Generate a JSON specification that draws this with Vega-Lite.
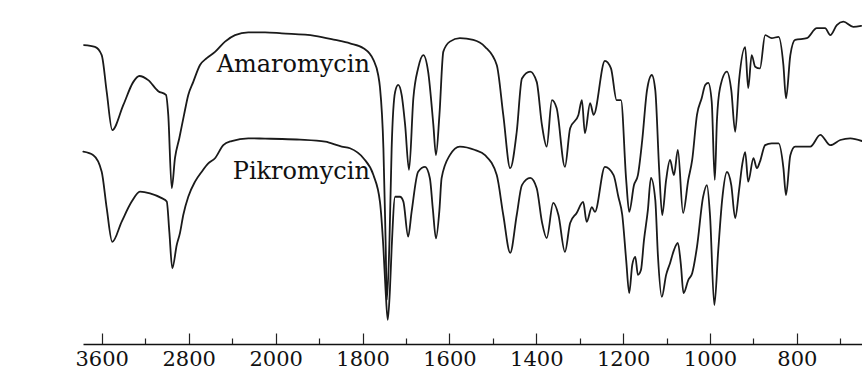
{
  "$schema": "https://vega.github.io/schema/vega-lite/v6.json",
  "width": 862,
  "height": 344,
  "autosize": "none",
  "padding": {"left": 0, "top": 0, "right": 0, "bottom": 37},
  "background": "white",
  "config": {"view": {"stroke": null}},
  "datasets": {
    "spectra": [
      {"compound": "Amaromycin", "wn": 3763, "T": 86.9},
      {"compound": "Amaromycin", "wn": 3662, "T": 86.4},
      {"compound": "Amaromycin", "wn": 3600, "T": 84.0},
      {"compound": "Amaromycin", "wn": 3554, "T": 73.3},
      {"compound": "Amaromycin", "wn": 3503, "T": 62.2},
      {"compound": "Amaromycin", "wn": 3401, "T": 69.5},
      {"compound": "Amaromycin", "wn": 3309, "T": 76.2},
      {"compound": "Amaromycin", "wn": 3254, "T": 77.9},
      {"compound": "Amaromycin", "wn": 3172, "T": 76.7},
      {"compound": "Amaromycin", "wn": 3080, "T": 73.5},
      {"compound": "Amaromycin", "wn": 3009, "T": 72.4},
      {"compound": "Amaromycin", "wn": 2988, "T": 66.6},
      {"compound": "Amaromycin", "wn": 2956, "T": 45.3},
      {"compound": "Amaromycin", "wn": 2926, "T": 54.1},
      {"compound": "Amaromycin", "wn": 2886, "T": 59.9},
      {"compound": "Amaromycin", "wn": 2843, "T": 66.6},
      {"compound": "Amaromycin", "wn": 2804, "T": 72.4},
      {"compound": "Amaromycin", "wn": 2758, "T": 76.2},
      {"compound": "Amaromycin", "wn": 2696, "T": 81.1},
      {"compound": "Amaromycin", "wn": 2634, "T": 83.1},
      {"compound": "Amaromycin", "wn": 2558, "T": 84.9},
      {"compound": "Amaromycin", "wn": 2466, "T": 87.9},
      {"compound": "Amaromycin", "wn": 2374, "T": 89.8},
      {"compound": "Amaromycin", "wn": 2252, "T": 90.6},
      {"compound": "Amaromycin", "wn": 2098, "T": 90.6},
      {"compound": "Amaromycin", "wn": 1986, "T": 90.3},
      {"compound": "Amaromycin", "wn": 1910, "T": 89.6},
      {"compound": "Amaromycin", "wn": 1863, "T": 88.4},
      {"compound": "Amaromycin", "wn": 1829, "T": 87.4},
      {"compound": "Amaromycin", "wn": 1798, "T": 86.0},
      {"compound": "Amaromycin", "wn": 1775, "T": 82.6},
      {"compound": "Amaromycin", "wn": 1764, "T": 78.2},
      {"compound": "Amaromycin", "wn": 1760, "T": 74.7},
      {"compound": "Amaromycin", "wn": 1752, "T": 57.0},
      {"compound": "Amaromycin", "wn": 1747, "T": 30.2},
      {"compound": "Amaromycin", "wn": 1744, "T": 12.8},
      {"compound": "Amaromycin", "wn": 1738, "T": 30.2},
      {"compound": "Amaromycin", "wn": 1733, "T": 57.0},
      {"compound": "Amaromycin", "wn": 1725, "T": 73.3},
      {"compound": "Amaromycin", "wn": 1718, "T": 75.3},
      {"compound": "Amaromycin", "wn": 1710, "T": 72.4},
      {"compound": "Amaromycin", "wn": 1702, "T": 63.7},
      {"compound": "Amaromycin", "wn": 1693, "T": 50.6},
      {"compound": "Amaromycin", "wn": 1683, "T": 71.5},
      {"compound": "Amaromycin", "wn": 1672, "T": 80.2},
      {"compound": "Amaromycin", "wn": 1660, "T": 84.0},
      {"compound": "Amaromycin", "wn": 1649, "T": 79.2},
      {"compound": "Amaromycin", "wn": 1637, "T": 63.7},
      {"compound": "Amaromycin", "wn": 1631, "T": 54.9},
      {"compound": "Amaromycin", "wn": 1623, "T": 66.6},
      {"compound": "Amaromycin", "wn": 1614, "T": 85.0},
      {"compound": "Amaromycin", "wn": 1599, "T": 87.9},
      {"compound": "Amaromycin", "wn": 1576, "T": 88.9},
      {"compound": "Amaromycin", "wn": 1545, "T": 88.4},
      {"compound": "Amaromycin", "wn": 1518, "T": 86.4},
      {"compound": "Amaromycin", "wn": 1491, "T": 81.1},
      {"compound": "Amaromycin", "wn": 1476, "T": 66.6},
      {"compound": "Amaromycin", "wn": 1460, "T": 51.1},
      {"compound": "Amaromycin", "wn": 1445, "T": 61.7},
      {"compound": "Amaromycin", "wn": 1433, "T": 77.2},
      {"compound": "Amaromycin", "wn": 1414, "T": 79.2},
      {"compound": "Amaromycin", "wn": 1399, "T": 76.2},
      {"compound": "Amaromycin", "wn": 1387, "T": 63.7},
      {"compound": "Amaromycin", "wn": 1376, "T": 57.4},
      {"compound": "Amaromycin", "wn": 1364, "T": 70.9},
      {"compound": "Amaromycin", "wn": 1353, "T": 68.5},
      {"compound": "Amaromycin", "wn": 1334, "T": 51.5},
      {"compound": "Amaromycin", "wn": 1322, "T": 62.7},
      {"compound": "Amaromycin", "wn": 1303, "T": 66.6},
      {"compound": "Amaromycin", "wn": 1295, "T": 70.9},
      {"compound": "Amaromycin", "wn": 1288, "T": 61.3},
      {"compound": "Amaromycin", "wn": 1276, "T": 70.0},
      {"compound": "Amaromycin", "wn": 1268, "T": 66.6},
      {"compound": "Amaromycin", "wn": 1242, "T": 82.3},
      {"compound": "Amaromycin", "wn": 1228, "T": 80.1},
      {"compound": "Amaromycin", "wn": 1215, "T": 70.9},
      {"compound": "Amaromycin", "wn": 1205, "T": 70.9},
      {"compound": "Amaromycin", "wn": 1193, "T": 47.7},
      {"compound": "Amaromycin", "wn": 1186, "T": 38.4},
      {"compound": "Amaromycin", "wn": 1175, "T": 46.2},
      {"compound": "Amaromycin", "wn": 1166, "T": 49.1},
      {"compound": "Amaromycin", "wn": 1156, "T": 59.3},
      {"compound": "Amaromycin", "wn": 1145, "T": 73.8},
      {"compound": "Amaromycin", "wn": 1134, "T": 78.2},
      {"compound": "Amaromycin", "wn": 1126, "T": 73.8},
      {"compound": "Amaromycin", "wn": 1117, "T": 50.6},
      {"compound": "Amaromycin", "wn": 1110, "T": 37.5},
      {"compound": "Amaromycin", "wn": 1101, "T": 47.7},
      {"compound": "Amaromycin", "wn": 1092, "T": 53.5},
      {"compound": "Amaromycin", "wn": 1083, "T": 49.1},
      {"compound": "Amaromycin", "wn": 1074, "T": 56.4},
      {"compound": "Amaromycin", "wn": 1062, "T": 38.1},
      {"compound": "Amaromycin", "wn": 1050, "T": 47.7},
      {"compound": "Amaromycin", "wn": 1041, "T": 53.5},
      {"compound": "Amaromycin", "wn": 1030, "T": 66.6},
      {"compound": "Amaromycin", "wn": 1019, "T": 71.5},
      {"compound": "Amaromycin", "wn": 1011, "T": 75.3},
      {"compound": "Amaromycin", "wn": 1004, "T": 75.9},
      {"compound": "Amaromycin", "wn": 996, "T": 70.4},
      {"compound": "Amaromycin", "wn": 989, "T": 47.7},
      {"compound": "Amaromycin", "wn": 984, "T": 65.1},
      {"compound": "Amaromycin", "wn": 977, "T": 74.4},
      {"compound": "Amaromycin", "wn": 961, "T": 79.2},
      {"compound": "Amaromycin", "wn": 951, "T": 73.8},
      {"compound": "Amaromycin", "wn": 942, "T": 61.7},
      {"compound": "Amaromycin", "wn": 933, "T": 76.7},
      {"compound": "Amaromycin", "wn": 919, "T": 86.3},
      {"compound": "Amaromycin", "wn": 912, "T": 74.4},
      {"compound": "Amaromycin", "wn": 904, "T": 84.0},
      {"compound": "Amaromycin", "wn": 896, "T": 80.6},
      {"compound": "Amaromycin", "wn": 885, "T": 80.1},
      {"compound": "Amaromycin", "wn": 873, "T": 89.8},
      {"compound": "Amaromycin", "wn": 858, "T": 88.9},
      {"compound": "Amaromycin", "wn": 842, "T": 89.3},
      {"compound": "Amaromycin", "wn": 831, "T": 81.1},
      {"compound": "Amaromycin", "wn": 825, "T": 71.4},
      {"compound": "Amaromycin", "wn": 815, "T": 84.0},
      {"compound": "Amaromycin", "wn": 804, "T": 88.4},
      {"compound": "Amaromycin", "wn": 777, "T": 88.9},
      {"compound": "Amaromycin", "wn": 754, "T": 91.8},
      {"compound": "Amaromycin", "wn": 735, "T": 91.8},
      {"compound": "Amaromycin", "wn": 723, "T": 89.8},
      {"compound": "Amaromycin", "wn": 708, "T": 92.7},
      {"compound": "Amaromycin", "wn": 693, "T": 93.7},
      {"compound": "Amaromycin", "wn": 670, "T": 92.2},
      {"compound": "Amaromycin", "wn": 652, "T": 92.5},
      {"compound": "Pikromycin", "wn": 3769, "T": 55.9},
      {"compound": "Pikromycin", "wn": 3677, "T": 54.9},
      {"compound": "Pikromycin", "wn": 3600, "T": 50.1},
      {"compound": "Pikromycin", "wn": 3554, "T": 39.5},
      {"compound": "Pikromycin", "wn": 3503, "T": 29.7},
      {"compound": "Pikromycin", "wn": 3416, "T": 35.6},
      {"compound": "Pikromycin", "wn": 3324, "T": 41.4},
      {"compound": "Pikromycin", "wn": 3248, "T": 44.3},
      {"compound": "Pikromycin", "wn": 3156, "T": 43.8},
      {"compound": "Pikromycin", "wn": 3048, "T": 42.4},
      {"compound": "Pikromycin", "wn": 3002, "T": 41.4},
      {"compound": "Pikromycin", "wn": 2978, "T": 32.6},
      {"compound": "Pikromycin", "wn": 2951, "T": 22.0},
      {"compound": "Pikromycin", "wn": 2910, "T": 28.8},
      {"compound": "Pikromycin", "wn": 2880, "T": 32.3},
      {"compound": "Pikromycin", "wn": 2850, "T": 37.5},
      {"compound": "Pikromycin", "wn": 2804, "T": 42.8},
      {"compound": "Pikromycin", "wn": 2742, "T": 47.2},
      {"compound": "Pikromycin", "wn": 2680, "T": 50.1},
      {"compound": "Pikromycin", "wn": 2620, "T": 52.5},
      {"compound": "Pikromycin", "wn": 2558, "T": 54.0},
      {"compound": "Pikromycin", "wn": 2482, "T": 57.8},
      {"compound": "Pikromycin", "wn": 2405, "T": 59.0},
      {"compound": "Pikromycin", "wn": 2252, "T": 59.8},
      {"compound": "Pikromycin", "wn": 2098, "T": 59.7},
      {"compound": "Pikromycin", "wn": 1986, "T": 59.6},
      {"compound": "Pikromycin", "wn": 1944, "T": 59.4},
      {"compound": "Pikromycin", "wn": 1886, "T": 58.8},
      {"compound": "Pikromycin", "wn": 1848, "T": 57.4},
      {"compound": "Pikromycin", "wn": 1829, "T": 56.9},
      {"compound": "Pikromycin", "wn": 1798, "T": 54.0},
      {"compound": "Pikromycin", "wn": 1775, "T": 49.1},
      {"compound": "Pikromycin", "wn": 1760, "T": 41.4},
      {"compound": "Pikromycin", "wn": 1752, "T": 27.9},
      {"compound": "Pikromycin", "wn": 1747, "T": 15.7},
      {"compound": "Pikromycin", "wn": 1742, "T": 7.0},
      {"compound": "Pikromycin", "wn": 1737, "T": 15.7},
      {"compound": "Pikromycin", "wn": 1733, "T": 27.9},
      {"compound": "Pikromycin", "wn": 1725, "T": 42.8},
      {"compound": "Pikromycin", "wn": 1714, "T": 42.8},
      {"compound": "Pikromycin", "wn": 1706, "T": 41.4},
      {"compound": "Pikromycin", "wn": 1695, "T": 31.2},
      {"compound": "Pikromycin", "wn": 1687, "T": 38.5},
      {"compound": "Pikromycin", "wn": 1672, "T": 50.1},
      {"compound": "Pikromycin", "wn": 1656, "T": 51.5},
      {"compound": "Pikromycin", "wn": 1645, "T": 48.2},
      {"compound": "Pikromycin", "wn": 1638, "T": 39.0},
      {"compound": "Pikromycin", "wn": 1631, "T": 30.7},
      {"compound": "Pikromycin", "wn": 1623, "T": 39.0},
      {"compound": "Pikromycin", "wn": 1618, "T": 48.2},
      {"compound": "Pikromycin", "wn": 1599, "T": 54.9},
      {"compound": "Pikromycin", "wn": 1576, "T": 57.4},
      {"compound": "Pikromycin", "wn": 1541, "T": 56.4},
      {"compound": "Pikromycin", "wn": 1518, "T": 54.9},
      {"compound": "Pikromycin", "wn": 1491, "T": 49.1},
      {"compound": "Pikromycin", "wn": 1476, "T": 37.5},
      {"compound": "Pikromycin", "wn": 1460, "T": 26.5},
      {"compound": "Pikromycin", "wn": 1445, "T": 37.5},
      {"compound": "Pikromycin", "wn": 1433, "T": 46.2},
      {"compound": "Pikromycin", "wn": 1414, "T": 48.3},
      {"compound": "Pikromycin", "wn": 1399, "T": 45.3},
      {"compound": "Pikromycin", "wn": 1387, "T": 35.5},
      {"compound": "Pikromycin", "wn": 1376, "T": 30.8},
      {"compound": "Pikromycin", "wn": 1361, "T": 41.0},
      {"compound": "Pikromycin", "wn": 1349, "T": 37.5},
      {"compound": "Pikromycin", "wn": 1334, "T": 26.8},
      {"compound": "Pikromycin", "wn": 1322, "T": 35.2},
      {"compound": "Pikromycin", "wn": 1307, "T": 38.1},
      {"compound": "Pikromycin", "wn": 1292, "T": 41.3},
      {"compound": "Pikromycin", "wn": 1284, "T": 35.5},
      {"compound": "Pikromycin", "wn": 1272, "T": 39.8},
      {"compound": "Pikromycin", "wn": 1265, "T": 38.4},
      {"compound": "Pikromycin", "wn": 1242, "T": 51.5},
      {"compound": "Pikromycin", "wn": 1222, "T": 49.1},
      {"compound": "Pikromycin", "wn": 1211, "T": 42.8},
      {"compound": "Pikromycin", "wn": 1202, "T": 37.5},
      {"compound": "Pikromycin", "wn": 1193, "T": 24.4},
      {"compound": "Pikromycin", "wn": 1186, "T": 14.8},
      {"compound": "Pikromycin", "wn": 1179, "T": 23.0},
      {"compound": "Pikromycin", "wn": 1172, "T": 25.3},
      {"compound": "Pikromycin", "wn": 1166, "T": 20.1},
      {"compound": "Pikromycin", "wn": 1159, "T": 21.5},
      {"compound": "Pikromycin", "wn": 1152, "T": 30.2},
      {"compound": "Pikromycin", "wn": 1143, "T": 39.0},
      {"compound": "Pikromycin", "wn": 1136, "T": 48.3},
      {"compound": "Pikromycin", "wn": 1126, "T": 41.9},
      {"compound": "Pikromycin", "wn": 1120, "T": 25.9},
      {"compound": "Pikromycin", "wn": 1111, "T": 13.7},
      {"compound": "Pikromycin", "wn": 1101, "T": 20.1},
      {"compound": "Pikromycin", "wn": 1092, "T": 23.5},
      {"compound": "Pikromycin", "wn": 1083, "T": 27.3},
      {"compound": "Pikromycin", "wn": 1074, "T": 29.4},
      {"compound": "Pikromycin", "wn": 1067, "T": 23.0},
      {"compound": "Pikromycin", "wn": 1061, "T": 14.8},
      {"compound": "Pikromycin", "wn": 1050, "T": 18.6},
      {"compound": "Pikromycin", "wn": 1041, "T": 20.6},
      {"compound": "Pikromycin", "wn": 1030, "T": 28.2},
      {"compound": "Pikromycin", "wn": 1016, "T": 42.7},
      {"compound": "Pikromycin", "wn": 1007, "T": 46.2},
      {"compound": "Pikromycin", "wn": 1000, "T": 37.5},
      {"compound": "Pikromycin", "wn": 990, "T": 11.3},
      {"compound": "Pikromycin", "wn": 981, "T": 27.3},
      {"compound": "Pikromycin", "wn": 972, "T": 41.9},
      {"compound": "Pikromycin", "wn": 961, "T": 50.0},
      {"compound": "Pikromycin", "wn": 951, "T": 46.2},
      {"compound": "Pikromycin", "wn": 942, "T": 36.6},
      {"compound": "Pikromycin", "wn": 933, "T": 44.8},
      {"compound": "Pikromycin", "wn": 926, "T": 52.0},
      {"compound": "Pikromycin", "wn": 919, "T": 55.8},
      {"compound": "Pikromycin", "wn": 912, "T": 47.2},
      {"compound": "Pikromycin", "wn": 900, "T": 54.0},
      {"compound": "Pikromycin", "wn": 892, "T": 51.1},
      {"compound": "Pikromycin", "wn": 885, "T": 53.0},
      {"compound": "Pikromycin", "wn": 873, "T": 57.8},
      {"compound": "Pikromycin", "wn": 858, "T": 58.3},
      {"compound": "Pikromycin", "wn": 842, "T": 58.3},
      {"compound": "Pikromycin", "wn": 831, "T": 51.2},
      {"compound": "Pikromycin", "wn": 825, "T": 43.3},
      {"compound": "Pikromycin", "wn": 815, "T": 54.9},
      {"compound": "Pikromycin", "wn": 804, "T": 57.4},
      {"compound": "Pikromycin", "wn": 769, "T": 57.4},
      {"compound": "Pikromycin", "wn": 746, "T": 60.8},
      {"compound": "Pikromycin", "wn": 723, "T": 57.8},
      {"compound": "Pikromycin", "wn": 700, "T": 59.3},
      {"compound": "Pikromycin", "wn": 677, "T": 59.8},
      {"compound": "Pikromycin", "wn": 650, "T": 59.0}
    ],
    "labels": [
      {"label": "Amaromycin", "wn": 1783, "T": 79.1},
      {"label": "Pikromycin", "wn": 1783, "T": 48.1}
    ]
  },
  "layer": [
    {
      "data": {"name": "spectra"},
      "mark": {"type": "line", "color": "#1a1a1a", "strokeWidth": 1.8, "strokeJoin": "round", "strokeCap": "round", "interpolate": "monotone"},
      "encoding": {
        "x": {
          "field": "wn",
          "type": "quantitative",
          "scale": {"domain": [3772, 2000, 650], "range": [83, 275.7, 862], "zero": false, "nice": false, "clamp": true},
          "axis": {
            "title": null,
            "values": [3600, 3200, 2800, 2400, 2000, 1900, 1800, 1700, 1600, 1500, 1400, 1300, 1200, 1100, 1000, 900, 800, 700],
            "format": "d",
            "labelExpr": "(datum.value == 3200 || datum.value == 2400 || datum.value % 200 != 0) ? '' : datum.label",
            "tickSize": {"condition": {"test": "datum.value == 3200 || datum.value == 2400 || datum.value % 200 != 0", "value": -6}, "value": -11},
            "tickColor": "#222",
            "tickWidth": 1.2,
            "domainColor": "#111",
            "domainWidth": 1.6,
            "labelFont": "DejaVu Serif",
            "labelFontSize": 21,
            "labelColor": "#111",
            "labelPadding": 15,
            "labelFlush": false,
            "labelOverlap": false,
            "grid": false
          }
        },
        "y": {"field": "T", "type": "quantitative", "scale": {"domain": [0, 100], "zero": false, "nice": false}, "axis": null},
        "detail": {"field": "compound", "type": "nominal"}
      }
    },
    {
      "data": {"name": "labels"},
      "mark": {"type": "text", "font": "DejaVu Serif", "fontSize": 24, "align": "right", "baseline": "alphabetic", "color": "#111"},
      "encoding": {
        "x": {"field": "wn", "type": "quantitative"},
        "y": {"field": "T", "type": "quantitative"},
        "text": {"field": "label", "type": "nominal"}
      }
    }
  ]
}
